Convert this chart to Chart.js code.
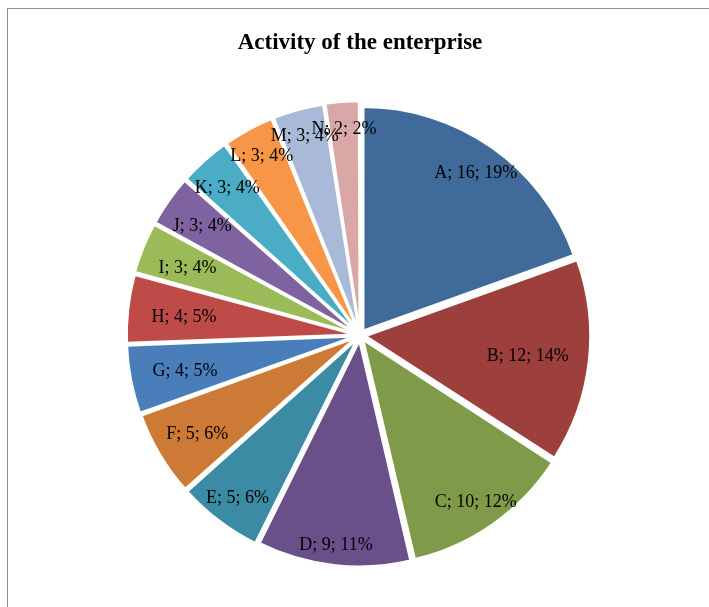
<!DOCTYPE html>
<html>
<head>
<meta charset="utf-8">
<script src="https://cdn.jsdelivr.net/npm/chart.js@4/dist/chart.umd.min.js"></script>
<style>
  html, body { margin: 0; padding: 0; background: #fff; overflow: hidden; }
  #wrap { position: relative; width: 709px; height: 607px; }
  #frame { position: absolute; left: 7px; top: 8px; width: 800px; height: 700px; border: 1.5px solid #8c8c8c; box-sizing: border-box; }
  canvas { position: absolute; left: 0; top: 0; }
</style>
</head>
<body>
<div id="wrap">
  <div id="frame"></div>
  <canvas id="c" width="709" height="607"></canvas>
</div>
<script>
const categories = ['A','B','C','D','E','F','G','H','I','J','K','L','M','N'];
const counts = [16, 12, 10, 9, 5, 5, 4, 4, 3, 3, 3, 3, 3, 2];
const percents = [19, 14, 12, 11, 6, 6, 5, 5, 4, 4, 4, 4, 4, 2];
const colors = ['#3F6A9A','#9C3F3D','#7F9A48','#69508A','#3A8BA3','#CC7A36','#4A7EBB','#BE4B48',
                '#9BBB59','#7F63A1','#4BACC6','#F79646','#A9B9D8','#D9A7A6'];

const labelPlugin = {
  id: 'sliceLabels',
  afterDatasetsDraw(chart) {
    const ctx = chart.ctx;
    const meta = chart.getDatasetMeta(0);
    ctx.save();
    ctx.font = '18px "Liberation Serif", "Times New Roman", serif';
    ctx.fillStyle = '#000';
    ctx.textAlign = 'center';
    ctx.textBaseline = 'middle';
    meta.data.forEach((arc, i) => {
      const txt = categories[i] + '; ' + counts[i] + '; ' + percents[i] + '%';
      const w = ctx.measureText(txt).width;
      const mid = (arc.startAngle + arc.endAngle) / 2;
      const ux = Math.cos(mid), uy = Math.sin(mid);
      const off = chart.data.datasets[0].offset / 4;
      const r = arc.outerRadius + off - 20 - (w / 2) * Math.pow(Math.abs(ux), 3);
      ctx.fillText(txt, arc.x + ux * r, arc.y + uy * r + 2);
    });
    ctx.restore();
  }
};

new Chart(document.getElementById('c'), {
  type: 'pie',
  data: {
    labels: categories,
    datasets: [{
      data: counts,
      backgroundColor: colors,
      borderColor: '#ffffff',
      borderWidth: 2,
      offset: 24
    }]
  },
  options: {
    responsive: false,
    animation: false,
    radius: 223,
    layout: { padding: { left: 11, right: 0, top: 0, bottom: 0 } },
    plugins: {
      legend: { display: false },
      tooltip: { enabled: false },
      title: {
        display: true,
        text: 'Activity of the enterprise',
        color: '#000',
        font: { family: '"Liberation Serif", "Times New Roman", serif', size: 23, weight: 'bold' },
        padding: { top: 29, bottom: 7 }
      }
    }
  },
  plugins: [labelPlugin]
});
</script>
</body>
</html>
